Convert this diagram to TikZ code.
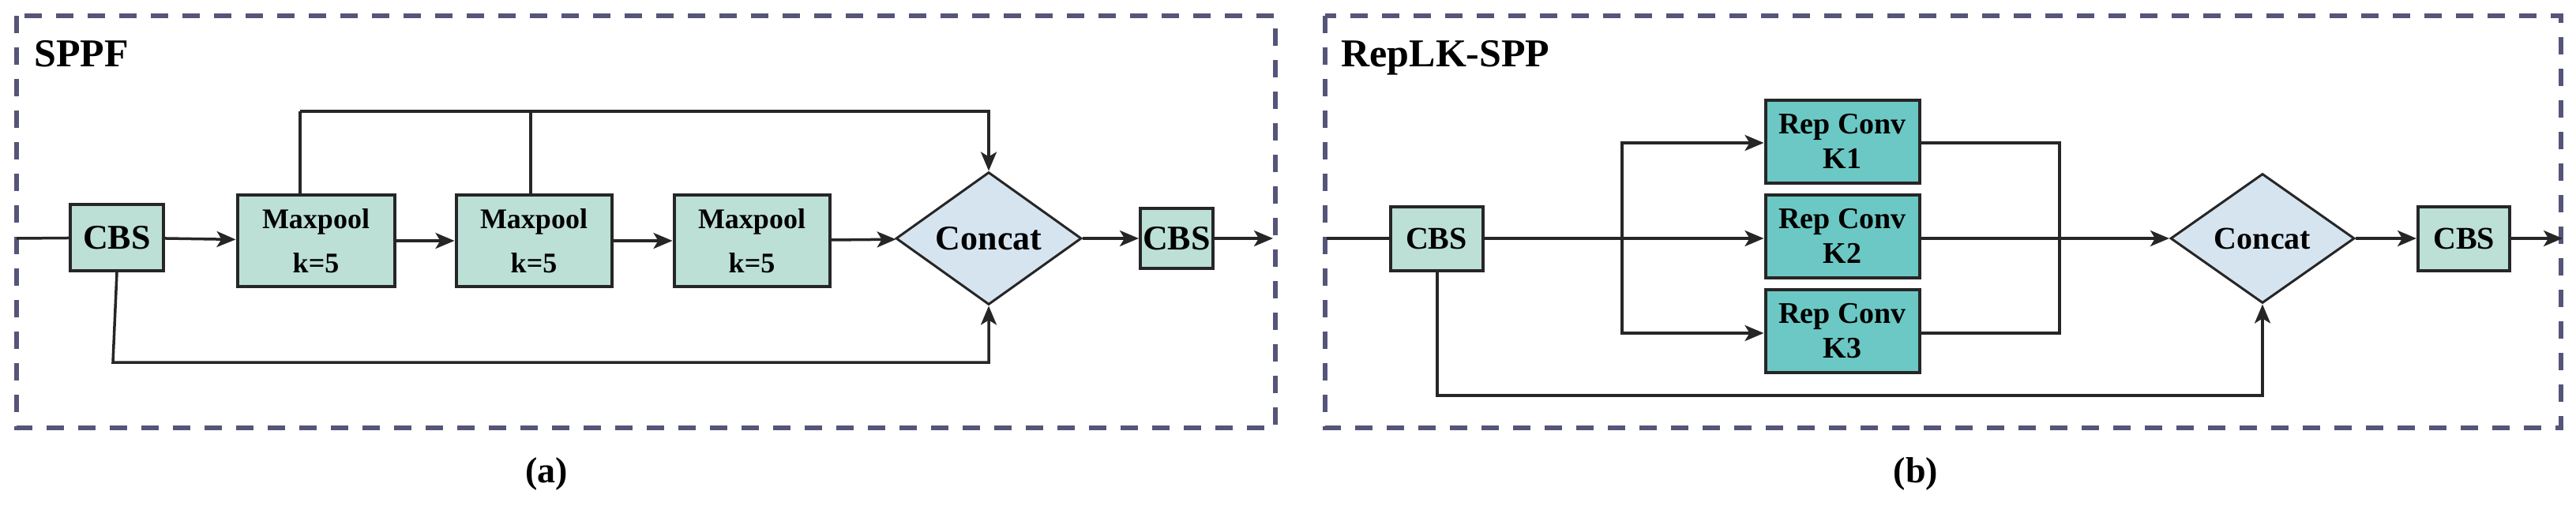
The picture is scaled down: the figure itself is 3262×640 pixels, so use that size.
\documentclass[tikz,border=0pt]{standalone}
\usepackage{fontspec}
\setmainfont{Liberation Serif}
\usetikzlibrary{shapes.geometric,arrows.meta}
\definecolor{cbs}{HTML}{BCDFD6}
\definecolor{rep}{HTML}{6CC8C4}
\definecolor{cat}{HTML}{D6E4EF}
\definecolor{dash}{HTML}{55557A}
\begin{document}
\begin{tikzpicture}[x=1pt,y=-1pt,
  box/.style={draw=black!85,line width=4pt,fill=cbs,inner sep=0pt,font=\bfseries,align=center},
  rbox/.style={draw=black!85,line width=4pt,fill=rep,inner sep=0pt,minimum width=195pt,minimum height=105pt,font=\fontsize{38}{44}\selectfont\bfseries,align=center},
  dia/.style={diamond,draw=black!85,line width=3pt,fill=cat,inner sep=0pt,minimum width=235pt,minimum height=168pt,font=\fontsize{44}{50}\selectfont\bfseries},
  ln/.style={line width=3.5pt,draw=black!85},
  ar/.style={ln,-{Stealth[length=24pt,width=20pt,inset=6pt]}},
  frame/.style={draw=dash,line width=6pt,dash pattern=on 22pt off 18pt}]
\useasboundingbox (0,0) rectangle (3262,640);
% frames
\draw[frame] (21,20) rectangle (1615,542);
\draw[frame] (1678,20) rectangle (3243,542);
\node[anchor=north west,font=\fontsize{50}{56}\selectfont\bfseries] (t1) at (40,48) {SPPF};
\node[anchor=north west,font=\fontsize{50}{56}\selectfont\bfseries] (t2) at (1695,48) {RepLK-SPP};
\node[font=\fontsize{46}{52}\selectfont\bfseries] (la) at (692,600) {(a)};
\node[font=\fontsize{46}{52}\selectfont\bfseries] (lb) at (2426,600) {(b)};
% panel a
\coordinate (ina) at (21,302);
\node[box,minimum width=118pt,minimum height=84pt,font=\fontsize{44}{50}\selectfont\bfseries] (c1) at (148,301) {CBS};
\node[box,minimum width=199pt,minimum height=116pt,font=\fontsize{36}{56}\selectfont\bfseries] (m1) at (400,305) {Maxpool\\k=5};
\node[box,minimum width=197pt,minimum height=116pt,font=\fontsize{36}{56}\selectfont\bfseries] (m2) at (676,305) {Maxpool\\k=5};
\node[box,minimum width=197pt,minimum height=116pt,font=\fontsize{36}{56}\selectfont\bfseries] (m3) at (952,305) {Maxpool\\k=5};
\node[dia] (d1) at (1252,302) {Concat};
\node[box,minimum width=92pt,minimum height=76pt,font=\fontsize{44}{50}\selectfont\bfseries] (c2) at (1490,302) {CBS};
\coordinate (outa) at (1612,302);
\draw[ln] (ina) -- (c1);
\draw[ar] (c1) -- (m1);
\draw[ar] (m1) -- (m2);
\draw[ar] (m2) -- (m3);
\draw[ar] (m3) -- (d1);
\draw[ar] (d1) -- (c2);
\draw[ar] (c2) -- (outa);
\draw[ln] (380,247) -- (380,141);
\draw[ln] (672,247) -- (672,141);
\draw[ar] (380,141) -- (1252,141) -- (d1.north);
\draw[ar] (c1.south) -- (143,459) -- (1252,459) -- (d1.south);
% panel b
\coordinate (inb) at (1680,302);
\node[box,minimum width=117pt,minimum height=81pt,font=\fontsize{40}{46}\selectfont\bfseries] (c3) at (1819,302) {CBS};
\node[rbox] (r1) at (2333,179) {Rep Conv\\K1};
\node[rbox] (r2) at (2333,299) {Rep Conv\\K2};
\node[rbox] (r3) at (2333,419) {Rep Conv\\K3};
\node[dia,minimum width=233pt,minimum height=164pt,font=\fontsize{40}{46}\selectfont\bfseries] (d2) at (2865,302) {Concat};
\node[box,minimum width=116pt,minimum height=81pt,font=\fontsize{40}{46}\selectfont\bfseries] (c4) at (3120,302) {CBS};
\coordinate (outb) at (3245,302);
\draw[ln] (inb) -- (c3);
\draw[ar] (c3) -- (r2.west |- c3);
\draw[ar] (2054,302) -- (2054,181) -- (r1.west |- 0,181);
\draw[ar] (2054,302) -- (2054,422) -- (r3.west |- 0,422);
\draw[ln] (r1.east |- 0,181) -- (2608,181) -- (2608,422) -- (r3.east |- 0,422);
\draw[ar] (r2.east |- 0,302) -- (d2.west);
\draw[ar] (d2) -- (c4);
\draw[ar] (c4) -- (outb);
\draw[ar] (c3.south -| 1820,0) -- (1820,501) -- (2865,501) -- (d2.south);
\end{tikzpicture}
\end{document}
